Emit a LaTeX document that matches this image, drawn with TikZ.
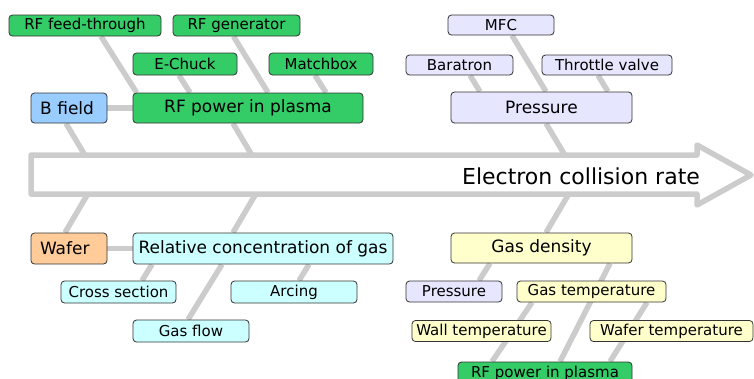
\documentclass[tikz,border=0pt]{standalone}
\usepackage{fontspec}
\setmainfont{DejaVu Sans}
\definecolor{RFGreen}{HTML}{33CC66}
\definecolor{FieldBlue}{HTML}{99CCFF}
\definecolor{PressLilac}{HTML}{E6E6FF}
\definecolor{GasCyan}{HTML}{CCFFFF}
\definecolor{WaferOrange}{HTML}{FFCC99}
\definecolor{DensYellow}{HTML}{FFFFCC}
\definecolor{BoneGrey}{HTML}{CCCCCC}
\definecolor{BoxEdge}{HTML}{333333}
\usetikzlibrary{backgrounds}

\begin{document}
\begin{tikzpicture}[x=1pt, y=-1pt,
  box/.style={draw=BoxEdge, rounded corners=3.5pt, line width=0.8pt, inner sep=0pt,
    minimum height=21pt, font=\fontsize{15}{18}\selectfont},
  cause/.style={box, minimum height=30pt, font=\fontsize{17}{20}\selectfont},
  bone/.style={BoneGrey, line width=5.5pt}]
  \useasboundingbox (0,0) rectangle (754,378);
  \clip (0,0) rectangle (754,378);

  % Spine
  \draw[bone, line join=round] (31,155) -- (697,155) -- (697,145) -- (751,175)
    -- (697,205) -- (697,194) -- (31,194) -- cycle;
  \node[font=\fontsize{22}{26}\selectfont] (effect) at (581,176) {Electron collision rate};

  % Upper causes
  \node[cause, fill=FieldBlue, text width=58pt, inner xsep=9pt, align=left] (bfield) at (69,108) {B field};
  \node[cause, fill=RFGreen, minimum width=230pt] (rfp) at (248,108) {RF power in plasma};
  \node[box, fill=RFGreen, minimum width=152pt] (feed) at (85,25.5) {RF feed-through};
  \node[box, fill=RFGreen, minimum width=127pt] (gen) at (236.5,25.5) {RF generator};
  \node[box, fill=RFGreen, minimum width=104pt, minimum height=22pt] (chuck) at (185,64) {E-Chuck};
  \node[box, fill=RFGreen, minimum width=104pt, minimum height=22pt] (match) at (321,64) {Matchbox};

  \node[cause, fill=PressLilac, minimum width=181pt, minimum height=31pt] (press) at (541.5,107.5) {Pressure};
  \node[box, fill=PressLilac, minimum width=106pt, minimum height=20pt] (mfc) at (501,25) {MFC};
  \node[box, fill=PressLilac, minimum width=107pt, minimum height=20pt] (bara) at (459.5,65) {Baratron};
  \node[box, fill=PressLilac, minimum width=130pt, minimum height=20pt] (throttle) at (607,65) {Throttle valve};

  % Lower causes
  \node[cause, fill=WaferOrange, text width=58pt, inner xsep=9pt, align=left, minimum height=31pt] (wafer) at (69,248.5) {Wafer};
  \node[cause, fill=GasCyan, minimum width=260pt, minimum height=31pt] (conc) at (263,248.5) {Relative concentration of gas};
  \node[box, fill=GasCyan, minimum width=115pt, minimum height=22pt] (cross) at (118.5,292) {Cross section};
  \node[box, fill=GasCyan, minimum width=126pt, minimum height=22pt] (arc) at (294,292) {Arcing};
  \node[box, fill=GasCyan, minimum width=116pt, minimum height=22pt] (gasflow) at (191,331) {Gas flow};

  \node[cause, fill=DensYellow, minimum width=181pt] (dens) at (541.5,248) {Gas density};
  \node[box, fill=PressLilac, minimum width=96pt] (press2) at (454,291.5) {Pressure};
  \node[box, fill=DensYellow, minimum width=149pt] (gtemp) at (591.5,291.5) {Gas temperature};
  \node[box, fill=DensYellow, minimum width=139pt] (wall) at (481.5,331) {Wall temperature};
  \node[box, fill=DensYellow, minimum width=163pt] (wtemp) at (671.5,331) {Wafer temperature};
  \node[box, fill=RFGreen, minimum width=174pt, minimum height=22pt] (rfp2) at (545,373) {RF power in plasma};

  % Bones
  \begin{scope}[on background layer]
    \draw[bone] ([xshift=-3pt]bfield.south) -- ++(19,32);
    \draw[bone] ([xshift=-15pt]rfp.south) -- ++(19,32);
    \draw[bone] (bfield.east) -- (rfp.west);
    \draw[bone] ([xshift=16pt]feed.south) -- ([xshift=4pt]rfp.north west);
    \draw[bone] ([xshift=-3pt]gen.south) -- ([xshift=20pt]rfp.north);
    \draw[bone] ([xshift=-6pt]chuck.south) -- ([xshift=-58pt]rfp.north);
    \draw[bone] ([xshift=-6pt]match.south) -- ([xshift=78pt]rfp.north);

    \draw[bone] ([xshift=4.5pt]press.south) -- ++(19,32);
    \draw[bone] ([xshift=11pt]mfc.south) -- ([xshift=4.5pt]press.north);
    \draw[bone] ([xshift=10.5pt]bara.south) -- ([xshift=-61.5pt]press.north);
    \draw[bone] ([xshift=-9pt]throttle.south) -- ([xshift=66.5pt]press.north);

    \draw[bone] ([xshift=-4pt]wafer.north) -- ++(23,-39);
    \draw[bone] ([xshift=-30pt]conc.north) -- ++(23,-39);
    \draw[bone] (wafer.east) -- (conc.west);
    \draw[bone] ([xshift=23.5pt]cross.north) -- ([xshift=-111pt]conc.south);
    \draw[bone] ([xshift=-3pt]gasflow.north) -- ([xshift=-41pt]conc.south);
    \draw[bone] ([xshift=5pt]arc.north) -- ([xshift=46pt]conc.south);

    \draw[bone] ([xshift=4.5pt]dens.north) -- ++(23,-39);
    \draw[bone] ([xshift=25pt]press2.north) -- ([xshift=-51.5pt]dens.south);
    \draw[bone] ([xshift=15pt]rfp2.north) -- ([xshift=68.5pt]dens.south);
    \draw[bone] ([xshift=-53pt]rfp2.north) -- ([xshift=-59.5pt]gtemp.south);
    \draw[bone] ([xshift=65pt]rfp2.north) -- ([xshift=55.5pt]gtemp.south);
  \end{scope}
\end{tikzpicture}
\end{document}
